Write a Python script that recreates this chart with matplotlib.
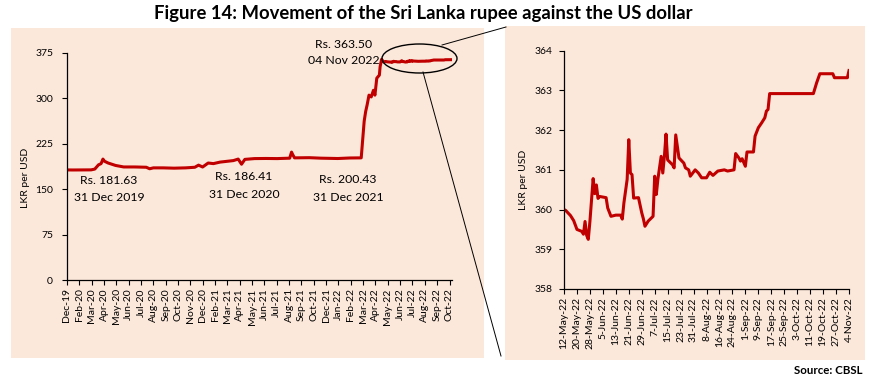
import numpy as np
import matplotlib
matplotlib.use("Agg")
import matplotlib.pyplot as plt
import matplotlib.dates as mdates
from matplotlib.patches import Rectangle, Ellipse
from matplotlib.lines import Line2D

plt.rcParams['font.family'] = ['Lato', 'DejaVu Sans']

# ---------------- data ----------------
early_dates = [
    "2019-12-31", "2020-01-15", "2020-02-15", "2020-03-05", "2020-03-15", "2020-03-25",
    "2020-04-01", "2020-04-06", "2020-04-10", "2020-04-20", "2020-05-10", "2020-06-01",
    "2020-07-01", "2020-08-01", "2020-08-10", "2020-08-20", "2020-09-15", "2020-10-15",
    "2020-11-15", "2020-12-10", "2020-12-20", "2020-12-31", "2021-01-15", "2021-01-29",
    "2021-02-16", "2021-03-24", "2021-04-06", "2021-04-15", "2021-04-24", "2021-05-20",
    "2021-06-20", "2021-07-20", "2021-08-23", "2021-08-28", "2021-08-31", "2021-09-05",
    "2021-10-15", "2021-11-15", "2021-12-31", "2022-02-01", "2022-03-04", "2022-03-09",
    "2022-03-12", "2022-03-16", "2022-03-20", "2022-03-25", "2022-03-31", "2022-04-06",
    "2022-04-10", "2022-04-15", "2022-04-22", "2022-04-24", "2022-04-28", "2022-05-03",
    "2022-05-09",
]
early_values = [
    181.63, 181.5, 181.6, 181.7, 183.0, 190.0,
    192.0, 199.5, 196.0, 193.0, 189.0, 186.5,
    186.5, 186.0, 183.5, 185.0, 185.0, 184.5,
    185.0, 186.0, 189.5, 186.41, 193.0, 192.0,
    194.5, 197.0, 199.5, 191.0, 199.0, 200.3,
    200.5, 200.3, 201.0, 211.0, 207.0, 201.5,
    201.8, 201.0, 200.43, 201.3, 201.5, 240.0,
    262.0, 278.0, 289.0, 305.0, 302.0, 313.0,
    305.0, 333.0, 338.0, 352.0, 364.0, 360.0,
    360.5,
]

recent_dates = [
    "2022-05-12", "2022-05-13", "2022-05-16", "2022-05-18", "2022-05-20", "2022-05-23",
    "2022-05-24", "2022-05-25", "2022-05-26", "2022-05-27", "2022-05-28", "2022-05-30",
    "2022-05-31", "2022-06-01", "2022-06-02", "2022-06-03", "2022-06-07", "2022-06-08",
    "2022-06-10", "2022-06-13", "2022-06-16", "2022-06-17", "2022-06-18", "2022-06-20",
    "2022-06-21", "2022-06-22", "2022-06-23", "2022-06-24", "2022-06-27", "2022-06-29",
    "2022-06-30", "2022-07-01", "2022-07-03", "2022-07-06", "2022-07-07", "2022-07-08",
    "2022-07-09", "2022-07-11", "2022-07-12", "2022-07-13", "2022-07-14", "2022-07-15",
    "2022-07-18", "2022-07-19", "2022-07-20", "2022-07-22", "2022-07-25", "2022-07-26",
    "2022-07-28", "2022-07-29", "2022-08-01", "2022-08-03", "2022-08-05", "2022-08-08",
    "2022-08-10", "2022-08-12", "2022-08-15", "2022-08-19", "2022-08-21", "2022-08-25",
    "2022-08-26", "2022-08-28", "2022-08-29", "2022-08-30", "2022-09-01", "2022-09-02",
    "2022-09-06", "2022-09-07", "2022-09-09", "2022-09-11", "2022-09-13", "2022-09-14",
    "2022-09-15", "2022-09-16", "2022-10-13", "2022-10-15", "2022-10-17", "2022-10-25",
    "2022-10-26", "2022-11-03", "2022-11-04",
]
recent_values = [
    360.00, 359.98, 359.85, 359.72, 359.50, 359.45,
    359.38, 359.70, 359.35, 359.25, 359.70, 360.78,
    360.40, 360.62, 360.28, 360.33, 360.30, 360.04,
    359.83, 359.86, 359.86, 359.76, 360.17, 360.76,
    361.76, 360.92, 360.88, 360.29, 360.30, 359.92,
    359.77, 359.58, 359.71, 359.83, 360.84, 360.38,
    360.77, 361.34, 360.92, 361.34, 361.90, 361.25,
    361.13, 361.05, 361.88, 361.30, 361.17, 361.05,
    361.00, 360.84, 361.00, 360.92, 360.80, 360.80,
    360.94, 360.86, 360.97, 361.00, 360.97, 361.00,
    361.41, 361.30, 361.22, 361.28, 361.09, 361.45,
    361.45, 361.85, 362.06, 362.18, 362.31, 362.48,
    362.52, 362.92, 362.92, 363.19, 363.42, 363.42,
    363.32, 363.32, 363.50,
]

left_tick_labels = [
    "Dec-19", "Feb-20", "Mar-20", "Apr-20", "May-20", "Jun-20", "Jul-20", "Aug-20",
    "Sep-20", "Oct-20", "Nov-20", "Dec-20", "Feb-21", "Mar-21", "Apr-21", "May-21",
    "Jun-21", "Jul-21", "Aug-21", "Sep-21", "Oct-21", "Dec-21", "Jan-22", "Feb-22",
    "Mar-22", "Apr-22", "May-22", "Jun-22", "Jul-22", "Aug-22", "Sep-22", "Oct-22",
]
left_yticks = [0, 75, 150, 225, 300, 375]
right_yticks = [358, 359, 360, 361, 362, 363, 364]

annotations = [
    ("Rs. 181.63", "31 Dec 2019"),
    ("Rs. 186.41", "31 Dec 2020"),
    ("Rs. 200.43", "31 Dec 2021"),
    ("Rs. 363.50", "04 Nov 2022"),
]

# ---------------- layout ----------------
W, H = 876, 387
fig = plt.figure(figsize=(W / 100, H / 100), dpi=100)

def fx(x):
    return x / W

def fy(y):
    return 1 - y / H

bg = '#FCE8DA'
red = '#C00000'
fig.add_artist(Rectangle((fx(11), fy(358)), (484 - 11) / W, (358 - 28) / H,
                         transform=fig.transFigure, fc=bg, ec='none', zorder=-5))
fig.add_artist(Rectangle((fx(505), fy(360)), (865 - 505) / W, (360 - 26) / H,
                         transform=fig.transFigure, fc=bg, ec='none', zorder=-5))

fig.text(fx(423), fy(13), "Figure 14: Movement of the Sri Lanka rupee against the US dollar",
         ha='center', va='center', fontsize=13.3, fontweight='bold')


def style_axes(ax):
    ax.set_facecolor('none')
    for s in ('top', 'right'):
        ax.spines[s].set_visible(False)
    for s in ('left', 'bottom'):
        ax.spines[s].set_color('black')
        ax.spines[s].set_linewidth(0.9)
    ax.tick_params(axis='both', direction='out', length=3.5, width=0.8, colors='black',
                   labelsize=7.5)


# left axes
all_dates = np.array(early_dates + recent_dates, dtype='datetime64[D]')
all_values = np.array(early_values + recent_values)

ax1 = fig.add_axes([fx(67), fy(280), (452 - 67) / W, (280 - 52.7) / H])
style_axes(ax1)
ax1.plot(all_dates, all_values, color=red, lw=2.2, solid_joinstyle='round')
d0 = mdates.date2num(np.datetime64("2019-12-31"))
d1 = mdates.date2num(np.datetime64("2022-11-04"))
ax1.set_xlim(d0, d1)
ax1.set_ylim(0, 375)
ax1.set_yticks(left_yticks)
step = (d1 - d0) * (449.5 - 67) / (452 - 67) / (len(left_tick_labels) - 1)
ax1.set_xticks([d0 + k * step for k in range(len(left_tick_labels))])
ax1.set_xticklabels(left_tick_labels, rotation=90)
ax1.tick_params(axis='y', pad=6.5)
ax1.tick_params(axis='x', pad=2.5)
ax1.minorticks_off()

fig.text(fx(25), fy(178), "LKR per USD", rotation=90, ha='center', va='center', fontsize=7.5)

# annotations
pos = [(109, 181, 197), (244, 177, 194), (348, 180, 197), (344, 45, 61)]
for (l1, l2), (x, y1, y2) in zip(annotations, pos):
    fig.text(fx(x), fy(y1), l1, ha='center', va='center', fontsize=8.8)
    fig.text(fx(x), fy(y2), l2, ha='center', va='center', fontsize=8.8)

# right axes
ax2 = fig.add_axes([fx(564), fy(289), (849 - 564) / W, (289 - 50.7) / H])
style_axes(ax2)
rd = np.array(recent_dates, dtype='datetime64[D]')
ax2.plot(rd, np.array(recent_values), color=red, lw=2.2, solid_joinstyle='round')
r0 = mdates.date2num(np.datetime64("2022-05-12"))
r1 = mdates.date2num(np.datetime64("2022-11-04"))
ax2.set_xlim(r0, r1)
ax2.set_ylim(358, 364)
ax2.set_yticks(right_yticks)
rt = np.arange(np.datetime64("2022-05-12"), np.datetime64("2022-11-05"), np.timedelta64(8, 'D'))
ax2.set_xticks(mdates.date2num(rt))
ax2.set_xticklabels([f"{d.day}-{d.strftime('%b')}-{d.strftime('%y')}" for d in rt.astype('datetime64[D]').astype(object)],
                    rotation=90)
ax2.tick_params(axis='y', pad=5)
ax2.tick_params(axis='x', pad=2.5)
ax2.minorticks_off()

fig.text(fx(523), fy(180), "LKR per USD", rotation=90, ha='center', va='center', fontsize=7.5)

# zoom ellipse and connectors
fig.add_artist(Ellipse((fx(419.5), fy(58.5)), 75 / W, 29 / H, transform=fig.transFigure,
                       fill=False, ec='black', lw=1.0, zorder=10))
fig.add_artist(Line2D([fx(442), fx(506)], [fy(45), fy(27)], transform=fig.transFigure,
                      color='black', lw=0.7, zorder=10))
fig.add_artist(Line2D([fx(423), fx(501)], [fy(72), fy(356)], transform=fig.transFigure,
                      color='black', lw=0.7, zorder=10))

fig.text(fx(862), fy(370), "Source: CBSL", ha='right', va='center', fontsize=8.3, fontweight='bold')

fig.savefig("out.png", dpi=100, facecolor='white')
